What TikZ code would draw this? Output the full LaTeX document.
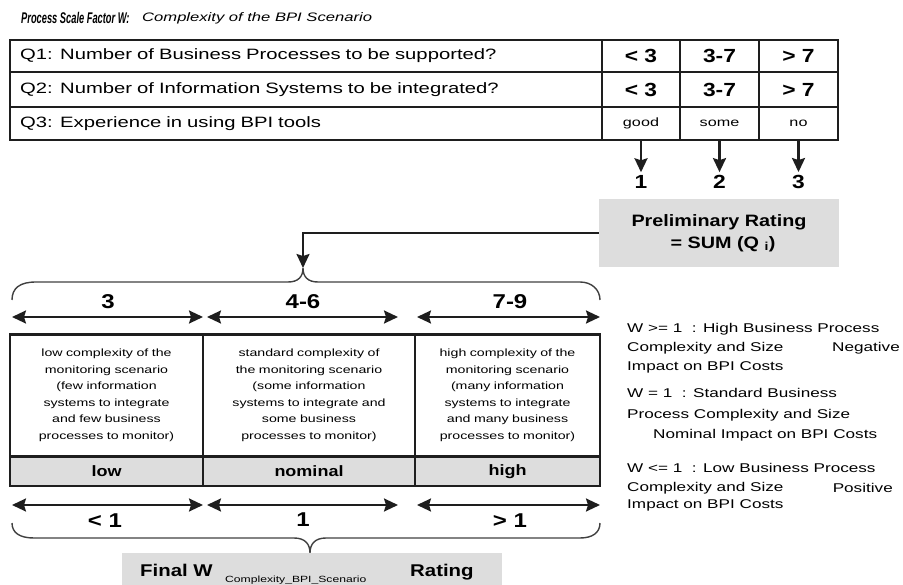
\documentclass[tikz,border=0pt]{standalone}
\usepackage{fontspec}
\setmainfont{Liberation Sans}
\newfontfamily\wfont[FakeStretch=1.35]{Liberation Sans}
\newfontfamily\bfont[FakeStretch=1.2]{Liberation Sans}
\newfontfamily\tfont[FakeStretch=0.6]{Liberation Sans}
\usetikzlibrary{arrows.meta}
\definecolor{boxgray}{RGB}{221,221,221}
\definecolor{ink}{RGB}{30,30,30}
\newcommand{\setsz}[1]{\fontsize{#1}{#1}\selectfont}
\tikzset{
  cell/.style={draw=ink, line width=2.4pt, inner sep=0pt, outer sep=0pt, font=\wfont\setsz{15}},
  val/.style={cell, font=\bfont\bfseries\setsz{19}},
  small/.style={cell, font=\wfont\setsz{12}},
  flow/.style={draw=ink, line width=2.4pt, -{Stealth[length=14pt,width=13pt,inset=2pt]}},
  rangearrow/.style={draw=ink, line width=2.2pt, {Stealth[length=14pt,width=13pt,inset=2pt]}-{Stealth[length=14pt,width=13pt,inset=2pt]}},
  bracepath/.style={draw=ink!85, line width=1.4pt},
  graybox/.style={fill=boxgray, inner sep=0pt},
  big/.style={font=\bfont\bfseries\setsz{19}, inner sep=0pt},
  legend/.style={font=\wfont\setsz{12.7}, inner sep=0pt, anchor=west}
}

\begin{document}
\begin{tikzpicture}[x=1pt, y=-1pt]
\useasboundingbox (0,0) rectangle (903,585);

% heading
\node[anchor=west, inner sep=0pt, font=\tfont\bfseries\itshape\setsz{15.5}] (title) at (21,18) {Process Scale Factor W:};
\node[anchor=west, inner sep=0pt, font=\wfont\itshape\setsz{12.3}] (subtitle) at (142,18) {Complexity of the BPI Scenario};

% questions
\node[cell, minimum width=592, minimum height=32, text width=572, align=left] (q1) at (306,56) {Q1: Number of Business Processes to be supported?};
\node[cell, minimum width=592, minimum height=35, text width=572, align=left] (q2) at (306,89.5) {Q2: Number of Information Systems to be integrated?};
\node[cell, minimum width=592, minimum height=33, text width=572, align=left] (q3) at (306,123.5) {Q3: Experience in using BPI tools};

\node[val, minimum width=78, minimum height=32] (v11) at (641,56) {< 3};
\node[val, minimum width=79, minimum height=32] (v12) at (719.5,56) {3-7};
\node[val, minimum width=79, minimum height=32] (v13) at (798.5,56) {> 7};
\node[val, minimum width=78, minimum height=35] (v21) at (641,89.5) {< 3};
\node[val, minimum width=79, minimum height=35] (v22) at (719.5,89.5) {3-7};
\node[val, minimum width=79, minimum height=35] (v23) at (798.5,89.5) {> 7};
\node[small, minimum width=78, minimum height=33] (v31) at (641,123.5) {good};
\node[small, minimum width=79, minimum height=33] (v32) at (719.5,123.5) {some};
\node[small, minimum width=79, minimum height=33] (v33) at (798.5,123.5) {no};

% points per answer
\node[big] (n1) at (641,182) {1};
\node[big] (n2) at (719.5,182) {2};
\node[big] (n3) at (798.5,182) {3};
\draw[flow] (v31.south) -- ([yshift=3pt]n1.north);
\draw[flow] (v32.south) -- ([yshift=3pt]n2.north);
\draw[flow] (v33.south) -- ([yshift=3pt]n3.north);

\node[graybox, minimum width=240, minimum height=68, align=center, font=\bfont\bfseries\setsz{16.5}] (prelim) at (719,233)
  {Preliminary Rating\\[5pt]\hspace*{8pt}= SUM (Q \textsubscript{i})};

\coordinate (toptip) at (303,268);
\draw[flow, line width=2pt] (prelim.west) -| (toptip);

% upper brace
\draw[bracepath] (12,300) .. controls (12,288) and (20,282) .. (36,282) -- (288,282)
  .. controls (298,282) and (303,277) .. (303,268)
  .. controls (303,277) and (308,282) .. (318,282) -- (580,282)
  .. controls (592,282) and (600,290) .. (600,300);

% ranges of the preliminary rating
\foreach \i/\xa/\xb in {1/12/203, 2/207/398, 3/417/600}{
  \coordinate (top\i a) at (\xa,317);
  \coordinate (top\i b) at (\xb,317);
  \draw[rangearrow] (top\i a) -- (top\i b);
  \coordinate (bot\i a) at (\xa,505);
  \coordinate (bot\i b) at (\xb,505);
  \draw[rangearrow] (bot\i a) -- (bot\i b);
}
\node[big, font=\bfont\bfseries\setsz{20}] (r1) at (108,302) {3};
\node[big, font=\bfont\bfseries\setsz{20}] (r2) at (303,302) {4-6};
\node[big, font=\bfont\bfseries\setsz{20}] (r3) at (510,302) {7-9};

% complexity classes
\node[cell, minimum width=193, minimum height=122, text width=185, align=center, font=\wfont\fontsize{10.5}{16.5}\selectfont] (t1) at (106.5,395.5)
  {low complexity of the\\monitoring scenario\\(few information\\systems to integrate\\and few business\\processes to monitor)};
\node[cell, minimum width=212, minimum height=122, text width=204, align=center, font=\wfont\fontsize{10.5}{16.5}\selectfont] (t2) at (309,395.5)
  {standard complexity of\\the monitoring scenario\\(some information\\systems to integrate and\\some business\\processes to monitor)};
\node[cell, minimum width=185, minimum height=122, text width=177, align=center, font=\wfont\fontsize{10.5}{16.5}\selectfont] (t3) at (507.5,395.5)
  {high complexity of the\\monitoring scenario\\(many information\\systems to integrate\\and many business\\processes to monitor)};
\node[cell, fill=boxgray, minimum width=193, minimum height=29, font=\bfont\bfseries\setsz{15}] (g1) at (106.5,471.5) {low};
\node[cell, fill=boxgray, minimum width=212, minimum height=29, font=\bfont\bfseries\setsz{15}] (g2) at (309,471.5) {nominal};
\node[cell, fill=boxgray, minimum width=185, minimum height=29, font=\bfont\bfseries\setsz{15}] (g3) at (507.5,471.5) {high};

\node[big, font=\bfont\bfseries\setsz{20}] (w1) at (105,521) {< 1};
\node[big, font=\bfont\bfseries\setsz{20}] (w2) at (303,520) {1};
\node[big, font=\bfont\bfseries\setsz{20}] (w3) at (510,521) {> 1};

% lower brace
\draw[bracepath] (12,523) .. controls (12,533) and (20,538) .. (34,538) -- (294,538)
  .. controls (305,538) and (310,544) .. (310,553)
  .. controls (310,544) and (315,538) .. (326,538) -- (580,538)
  .. controls (592,538) and (600,533) .. (600,523);

% final rating
\node[graybox, minimum width=380, minimum height=32] (final) at (312,569) {};
\node[font=\bfont\bfseries\setsz{17}, anchor=base west, inner sep=0pt] (finalw) at (140,576) {Final W};
\node[font=\wfont\setsz{9}, anchor=base west, inner sep=0pt] (finalsub) at (225,582) {Complexity\_BPI\_Scenario};
\node[font=\bfont\bfseries\setsz{17}, anchor=base west, inner sep=0pt] (finalr) at (410,576) {Rating};

% legend
\node[legend] (l1) at (627,329) {W >= 1\ \ : High Business Process};
\node[legend] (l2) at (627,348) {Complexity and Size};
\node[legend, anchor=east] (l2r) at (900,348) {Negative};
\node[legend] (l3) at (627,367) {Impact on BPI Costs};
\node[legend] (l4) at (627,393) {W = 1\ \ : Standard Business};
\node[legend] (l5) at (627,415) {Process Complexity and Size};
\node[legend] (l6) at (653,435) {Nominal Impact on BPI Costs};
\node[legend] (l7) at (627,468) {W <= 1\ \ : Low Business Process};
\node[legend] (l8) at (627,488) {Complexity and Size};
\node[legend, anchor=east] (l8r) at (893,488) {Positive};
\node[legend] (l9) at (627,505) {Impact on BPI Costs};
\end{tikzpicture}
\end{document}
